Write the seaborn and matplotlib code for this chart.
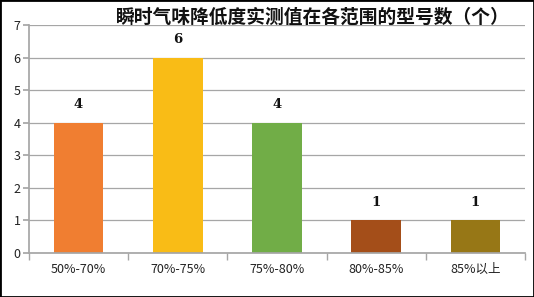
import matplotlib
matplotlib.use("Agg")
import matplotlib.pyplot as plt
import seaborn as sns
import pandas as pd

categories = ["50%-70%", "70%-75%", "75%-80%", "80%-85%", "85%以上"]
counts = [4, 6, 4, 1, 1]
colors = ["#F07E31", "#F9BC16", "#71AD47", "#A44E19", "#977716"]
title = "瞬时气味降低度实测值在各范围的型号数（个）"

sns.set_theme(style="white")
plt.rcParams['font.family'] = ['Noto Sans CJK SC', 'DejaVu Sans']

df = pd.DataFrame({"cat": categories, "n": counts})

fig = plt.figure(figsize=(5.34, 2.97), dpi=100)
ax = fig.add_axes([0.0543, 0.148, 0.929, 0.768])
sns.barplot(data=df, x="cat", y="n", hue="cat", palette=colors, width=0.5,
            legend=False, ax=ax, saturation=1, linewidth=0, edgecolor="none")

ax.set_ylim(0, 7)
ax.set_yticks(range(0, 8))
ax.set_xlim(-0.5, len(categories) - 0.5)
ax.yaxis.grid(True, color="#A6A6A6", linewidth=0.9)
ax.set_axisbelow(True)
for s in ["top", "right"]:
    ax.spines[s].set_visible(False)
ax.spines["left"].set_color("#A6A6A6")
ax.spines["bottom"].set_color("#A6A6A6")
ax.set_xlabel("")
ax.set_ylabel("")
ax.tick_params(axis="y", which="both", length=4, color="#A6A6A6", labelsize=9,
               labelcolor="#222222", pad=2, left=True)
ax.tick_params(axis="x", which="major", length=0, labelsize=9, labelcolor="#222222", pad=7)
ax.set_xticks(range(len(categories)))
ax.set_xticks([i - 0.5 for i in range(len(categories) + 1)], minor=True)
ax.tick_params(axis="x", which="minor", length=5, color="#A6A6A6", bottom=True)

for i, v in enumerate(counts):
    ax.text(i, v + 0.35, str(v), ha="center", va="bottom", fontsize=9.5,
            fontweight="bold", family=["DejaVu Serif"], color="#111111")

fig.text(0.585, 0.943, title, ha="center", va="center", fontsize=13.5, fontweight="bold",
         color="#111111")

border = plt.Rectangle((0, 0), 1, 1, transform=fig.transFigure, fill=False,
                       edgecolor="black", linewidth=2)
fig.patches.append(border)

fig.savefig("out.png", dpi=100)
